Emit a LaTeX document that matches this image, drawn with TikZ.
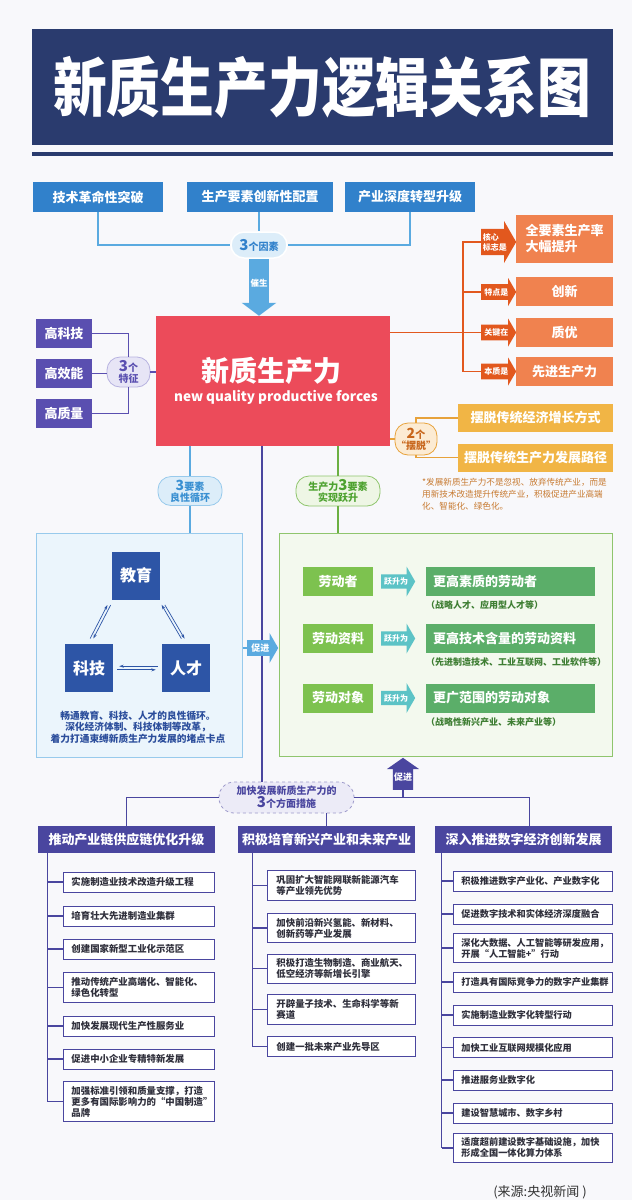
\documentclass[tikz,border=0pt]{standalone}
\usepackage{fontspec}
\setmainfont{Noto Sans CJK SC}
\usetikzlibrary{arrows.meta,shapes.arrows}
\newcommand{\fsz}[2]{\fontsize{#1pt}{#2pt}\selectfont}
\definecolor{pagebg}{HTML}{F8F8FB}
\definecolor{navy}{HTML}{2A3B6E}
\definecolor{factorblue}{HTML}{3181CB}
\definecolor{skyline}{HTML}{5AAAE0}
\definecolor{skyfill}{HTML}{DCEDF9}
\definecolor{corered}{HTML}{EC4B5A}
\definecolor{tagorange}{HTML}{E2581E}
\definecolor{boxorange}{HTML}{F0824F}
\definecolor{featpurple}{HTML}{5A4FB0}
\definecolor{featfill}{HTML}{E7E5F6}
\definecolor{featedge}{HTML}{B7B2E0}
\definecolor{gold}{HTML}{F1B545}
\definecolor{goldline}{HTML}{E7A23B}
\definecolor{goldfill}{HTML}{FCEBD3}
\definecolor{goldtext}{HTML}{C8661C}
\definecolor{notebrown}{HTML}{C77A31}
\definecolor{edufill}{HTML}{EBF5FC}
\definecolor{eduline}{HTML}{98CAEC}
\definecolor{edublue}{HTML}{2D55A6}
\definecolor{edutext}{HTML}{2C4E9C}
\definecolor{liangblue}{HTML}{3A90D2}
\definecolor{greenfill}{HTML}{F3F9EE}
\definecolor{greenline}{HTML}{8FC56D}
\definecolor{greenbub}{HTML}{EEF6E5}
\definecolor{greentext}{HTML}{4DA22F}
\definecolor{greenstem}{HTML}{6CB043}
\definecolor{labgreen}{HTML}{7DC24F}
\definecolor{resgreen}{HTML}{5BAE69}
\definecolor{riseteal}{HTML}{5CC3C6}
\definecolor{subgreen}{HTML}{3E7E33}
\definecolor{deeppurple}{HTML}{4A469F}
\definecolor{measfill}{HTML}{ECEBF7}
\definecolor{measedge}{HTML}{9E9BCB}
\definecolor{itemtext}{HTML}{30303C}
\definecolor{srcgray}{HTML}{333333}
\begin{document}
\begin{tikzpicture}[x=1pt, y=-1pt,
    factor/.style={fill=factorblue, text=white, font=\fsz{13}{15}\bfseries, minimum height=30pt, inner sep=0pt},
    bline/.style={skyline, line width=1.5pt},
    bubble/.style={rounded corners=13pt, line width=0.8pt, align=center, inner sep=0pt},
    otag/.style={single arrow, fill=tagorange, text=white, font=\fsz{8}{10}\bfseries, single arrow tip angle=120, minimum height=35pt, inner sep=1pt, align=left},
    obox/.style={fill=boxorange, text=white, font=\fsz{13}{16}\bfseries, minimum width=97pt, inner sep=0pt, align=left},
    oline/.style={tagorange, line width=1.5pt},
    feat/.style={fill=featpurple, text=white, font=\fsz{13}{15}\bfseries, minimum width=56pt, minimum height=29pt, inner sep=0pt},
    fline/.style={featpurple, line width=1.5pt},
    goldbox/.style={fill=gold, text=white, font=\fsz{13}{15}\bfseries, minimum width=155pt, minimum height=28pt, inner sep=0pt},
    gline/.style={goldline, line width=1.5pt},
    edusq/.style={fill=edublue, text=white, font=\fsz{16}{18}\bfseries, minimum width=48pt, minimum height=48pt, inner sep=0pt},
    cyc/.style={edublue, line width=0.7pt, -{Stealth[length=4.5pt,width=3pt]}, shorten <=6pt, shorten >=6pt},
    lab/.style={fill=labgreen, text=white, font=\fsz{13}{15}\bfseries, minimum width=70pt, minimum height=29pt, inner sep=0pt},
    rise/.style={single arrow, fill=riseteal, text=white, font=\fsz{8}{9}\bfseries, minimum height=34pt, minimum width=30pt, single arrow head extend=5.5pt, single arrow tip angle=120, inner sep=1pt},
    res/.style={fill=resgreen, text=white, font=\fsz{13}{15}\bfseries, minimum height=29pt, text width=155pt, inner xsep=7pt, inner ysep=0pt, align=left},
    subnote/.style={font=\fsz{9}{12}\bfseries, text=subgreen, inner sep=0pt},
    grline/.style={greenstem, line width=1.5pt},
    col/.style={fill=deeppurple, text=white, font=\fsz{13}{15}\bfseries, minimum width=177pt, minimum height=27pt, inner sep=0pt},
    item/.style={draw=deeppurple, line width=0.9pt, fill=white, text=itemtext, font=\fsz{9.4}{11}\bfseries, align=left, inner ysep=4.5pt, minimum height=20pt, anchor=west},
    pline/.style={deeppurple, line width=1.5pt},
    tline/.style={deeppurple, line width=1.1pt}]
\useasboundingbox (0,0) rectangle (632,1200);
\fill[pagebg] (0,0) rectangle (632,1200);
% title
\node[fill=navy, minimum width=581pt, minimum height=116pt, inner sep=0pt] (titlebox) at (322.5,87) {};
\node[text=white, font=\fsz{64}{64}\bfseries, xscale=0.84] (title) at (322,87) {新质生产力逻辑关系图};
\node[fill=navy, minimum width=581pt, minimum height=4pt, inner sep=0pt] (titlebar) at (322.5,154) {};
% three factors
\node[fill=corered, minimum width=234pt, minimum height=130pt, inner sep=0pt] (core) at (273,381) {};
\node[text=white, font=\fsz{28}{30}\bfseries] (coretitle) at (271,371) {新质生产力};
\node[text=white, font=\fsz{13.5}{15}\bfseries] (coreen) at (276,397) {new quality productive forces};
\node[factor, minimum width=130pt] (tech) at (98,197) {技术革命性突破};
\node[factor, minimum width=146pt] (alloc) at (260,197) {生产要素创新性配置};
\node[factor, minimum width=130pt] (indus) at (410,197) {产业深度转型升级};
\node[bubble, fill=skyfill, draw=white, line width=1.5pt, text=factorblue, minimum width=56pt, minimum height=26pt] (yinsu) at (259,245) {{\fsz{15}{16}\bfseries 3}{\fsz{10}{12}\bfseries 个因素}};
\draw[bline] (tech.south) |- (yinsu.west);
\draw[bline] (indus.south) |- (yinsu.east);
\draw[bline] (alloc.south -| yinsu.north) -- (yinsu.north);
\draw[skyline, line width=20pt, -{Triangle[length=13pt, width=34pt]}] (yinsu.south) -- (yinsu.south |- core.north);
\node[text=white, font=\fsz{8.5}{9}\bfseries] (cuisheng) at (259,283) {催生};
% orange tags
\foreach \n/\y/\w/\e/\t in {hexin/242/42/6/{核心\\标志是}, tedian/292/28/4/特点是, guanjian/332.5/28/4/关键在, benzhi/371.5/28/4/本质是}
    \node[otag, minimum width=\w pt, single arrow head extend=\e pt, anchor=tail] (\n) at (481,\y) {\t};
\foreach \n/\y/\h/\t in {quanyao/239/48/{全要素生产率\\大幅提升}, chuangxin/291.5/29/创新, zhiyou/332.5/29/质优, xianjin/371.5/29/先进生产力}
    \node[obox, minimum height=\h pt] (\n) at (564.5,\y) {\t};
\draw[oline] (hexin.tail) -- ++(-18,0) |- (benzhi.tail);
\draw[oline] (tedian.tail) -- ++(-18,0);
\draw[oline] (core.east |- guanjian.tail) -- (guanjian.tail);
% three features
\foreach \n/\y/\t in {gaokeji/333.5/高科技, gaoxiao/373.5/高效能, gaozhi/413.5/高质量}
    \node[feat] (\n) at (64,\y) {\t};
\node[bubble, fill=featfill, draw=featedge, text=featpurple, minimum width=43pt, minimum height=30pt, font=\fsz{10}{11}\bfseries] (tezheng) at (128.5,372) {{\fsz{15}{13}3}个\\特征};
\draw[fline] (gaokeji.east) -| (tezheng.north);
\draw[fline] (gaozhi.east) -| (tezheng.south);
\draw[fline] (gaoxiao.east) -- (gaoxiao.east -| tezheng.west);
\draw[fline] (tezheng.east) -- (tezheng.east -| core.west);
% two breakaways
\node[bubble, fill=goldfill, draw=goldline, text=goldtext, minimum width=42pt, minimum height=32pt, font=\fsz{10}{11}\bfseries] (baituo) at (416,439) {{\fsz{14}{13}2}个\\“摆脱”};
\node[goldbox] (baituo1) at (535.5,418) {摆脱传统经济增长方式};
\node[goldbox] (baituo2) at (535.5,457.5) {摆脱传统生产力发展路径};
\draw[gline] (core.east |- baituo.west) -- (baituo.west);
\draw[gline] (baituo.north) |- (baituo1.west);
\draw[gline] (baituo.south) |- (baituo2.west);
\node[anchor=north west, text=notebrown, font=\fsz{8.6}{12}, align=left, inner sep=0pt] (baituonote) at (422,478) {*发展新质生产力不是忽视、放弃传统产业，而是\\用新技术改造提升传统产业，积极促进产业高端\\化、智能化、绿色化。};
% measures bubble and columns
\node[bubble, rounded corners=15pt, fill=measfill, draw=measedge, dashed, text=deeppurple, minimum width=135pt, minimum height=31pt, font=\fsz{10}{12}\bfseries] (cuoshi) at (286.5,797.5) {加快发展新质生产力的\\{\fsz{15}{13}3}个方面措施};
\draw[pline] ([xshift=106pt]core.south west) -- ([xshift=106pt]core.south west |- cuoshi.north);
% education, science, talent
\node[bubble, fill=skyfill, draw=eduline, text=liangblue, minimum width=64pt, minimum height=29pt, font=\fsz{10}{11}\bfseries] (liangxing) at (190,491) {{\fsz{14}{13}3}要素\\良性循环};
\node[fill=edufill, draw=eduline, line width=1pt, minimum width=206pt, minimum height=224pt, inner sep=0pt] (edubox) at (139,645) {};
\draw[bline] (liangxing.north |- core.south) -- (liangxing.north);
\draw[bline] (liangxing.south) -- (liangxing.south |- edubox.north);
\node[edusq] (jiaoyu) at (136,575.5) {教育};
\node[edusq] (keji) at (89,668) {科技};
\node[edusq] (rencai) at (186,668) {人才};
\draw[cyc] ([xshift=-1.6pt]keji.north) -- ([xshift=-1.6pt]jiaoyu.south west);
\draw[cyc] ([xshift=1.6pt]jiaoyu.south west) -- ([xshift=1.6pt]keji.north);
\draw[cyc] ([xshift=1.6pt]jiaoyu.south east) -- ([xshift=1.6pt]rencai.north);
\draw[cyc] ([xshift=-1.6pt]rencai.north) -- ([xshift=-1.6pt]jiaoyu.south east);
\draw[cyc, shorten <=4pt] ([yshift=1.8pt]rencai.west) -- ([yshift=1.8pt]keji.east);
\draw[cyc, shorten <=4pt] ([yshift=-1.8pt]keji.east) -- ([yshift=-1.8pt]rencai.west);
\node[text=edutext, font=\fsz{9.7}{11.5}\bfseries, align=center] (edunote) at (138,727) {畅通教育、科技、人才的良性循环。\\深化经济体制、科技体制等改革，\\着力打通束缚新质生产力发展的堵点卡点};
\node[single arrow, fill=skyline, text=white, font=\fsz{9}{10}\bfseries, minimum height=31pt, minimum width=30pt, single arrow head extend=5pt, single arrow tip angle=120, inner sep=1pt, anchor=tail] (cujin) at (247,648) {促进};
\draw[bline] (edubox.east |- cujin.tail) -- (cujin.tail);
% three elements of productivity
\node[bubble, fill=greenbub, draw=greenline, text=greentext, minimum width=84pt, minimum height=30pt, font=\fsz{10}{11}\bfseries] (yuesheng) at (338,491) {生产力{\fsz{15}{13}3}要素\\实现跃升};
\node[fill=greenfill, draw=greenline, line width=1pt, minimum width=333pt, minimum height=223pt, inner sep=0pt] (greenbox) at (445.5,644.5) {};
\draw[grline] (yuesheng.north |- core.south) -- (yuesheng.north);
\draw[grline] (yuesheng.south) -- (yuesheng.south |- greenbox.north);
\foreach \n/\y/\a/\b/\c in {laodongzhe/581.5/劳动者/更高素质的劳动者/（战略人才、应用型人才等）, ziliao/638.5/劳动资料/更高技术含量的劳动资料/（先进制造技术、工业互联网、工业软件等）, duixiang/698/劳动对象/更广范围的劳动对象/（战略性新兴产业、未来产业等）}{
    \node[lab] (\n) at (338,\y) {\a};
    \node[rise, anchor=tail] (\n rise) at (381,\y) {跃升为};
    \node[res] (\n res) at (510.5,\y) {\b};
    \node[subnote, anchor=west] (\n note) at (426,\y+24) {\c};
}
\node[single arrow, shape border rotate=90, fill=deeppurple, text=white, font=\fsz{9}{10}\bfseries, minimum height=32pt, minimum width=32pt, single arrow head extend=6pt, single arrow tip angle=110, inner sep=1pt, anchor=tail] (cujinup) at (403,790) {促进};
% measures
\foreach \n/\x/\t in {lian/126.5/推动产业链供应链优化升级, xinxing/326.5/积极培育新兴产业和未来产业, shuzi/523.5/深入推进数字经济创新发展}
    \node[col] (\n) at (\x,839.5) {\t};
\draw[pline] (lian.north) |- (cuoshi.west);
\draw[pline] ([xshift=6pt]shuzi.north) |- (cuoshi.east);
\draw[pline] (xinxing.north |- cuoshi.south) -- (xinxing.north);
\draw[pline] (cujinup.tail) -- (cujinup.tail |- cuoshi.east);
\foreach \i/\y/\t in {1/882/实施制造业技术改造升级工程, 2/916/培育壮大先进制造业集群, 3/949/创建国家新型工业化示范区, 4/987.5/{推动传统产业高端化、智能化、\\绿色化转型}, 5/1026/加快发展现代生产性服务业, 6/1059/促进中小企业专精特新发展, 7/1101.5/{加强标准引领和质量支撑，打造\\更多有国际影响力的“中国制造”\\品牌}}{
    \node[item, text width=135pt, inner xsep=8pt] (lian\i) at (63,\y) {\t};
    \draw[tline] (lian\i.west) -- ++(-15,0);
}
\draw[tline] ([xshift=10pt]lian.south west) -- ([xshift=10pt]lian.south west |- lian7.west);
\foreach \i/\y/\t in {1/885.5/{巩固扩大智能网联新能源汽车\\等产业领先优势}, 2/928/{加快前沿新兴氢能、新材料、\\创新药等产业发展}, 3/968.5/{积极打造生物制造、商业航天、\\低空经济等新增长引擎}, 4/1009.5/{开辟量子技术、生命科学等新\\赛道}, 5/1046.5/创建一批未来产业先导区}{
    \node[item, text width=130pt, inner xsep=9pt] (xinxing\i) at (267,\y) {\t};
    \draw[tline] (xinxing\i.west) -- ++(-14,0);
}
\draw[tline] ([xshift=15pt]xinxing.south west) -- ([xshift=15pt]xinxing.south west |- xinxing5.west);
\foreach \i/\y/\t in {1/881/积极推进数字产业化、产业数字化, 2/914/促进数字技术和实体经济深度融合, 3/948/{深化大数据、人工智能等研发应用，\\开展“人工智能+”行动}, 4/982/打造具有国际竞争力的数字产业集群, 5/1015/实施制造业数字化转型行动, 6/1047.5/加快工业互联网规模化应用, 7/1080/推进服务业数字化, 8/1113/建设智慧城市、数字乡村, 9/1148/{适度超前建设数字基础设施，加快\\形成全国一体化算力体系}}{
    \node[item, text width=143pt, inner xsep=8pt, font=\fsz{9.2}{11}\bfseries] (shuzi\i) at (453,\y) {\t};
    \draw[tline] (shuzi\i.west) -- ++(-11,0);
}
\draw[tline] ([xshift=7pt]shuzi.south west) -- ([xshift=7pt]shuzi.south west |- shuzi9.west);
\node[text=srcgray, font=\fsz{13}{14}] (source) at (540,1192) {(来源:央视新闻 )};
\end{tikzpicture}
\end{document}
